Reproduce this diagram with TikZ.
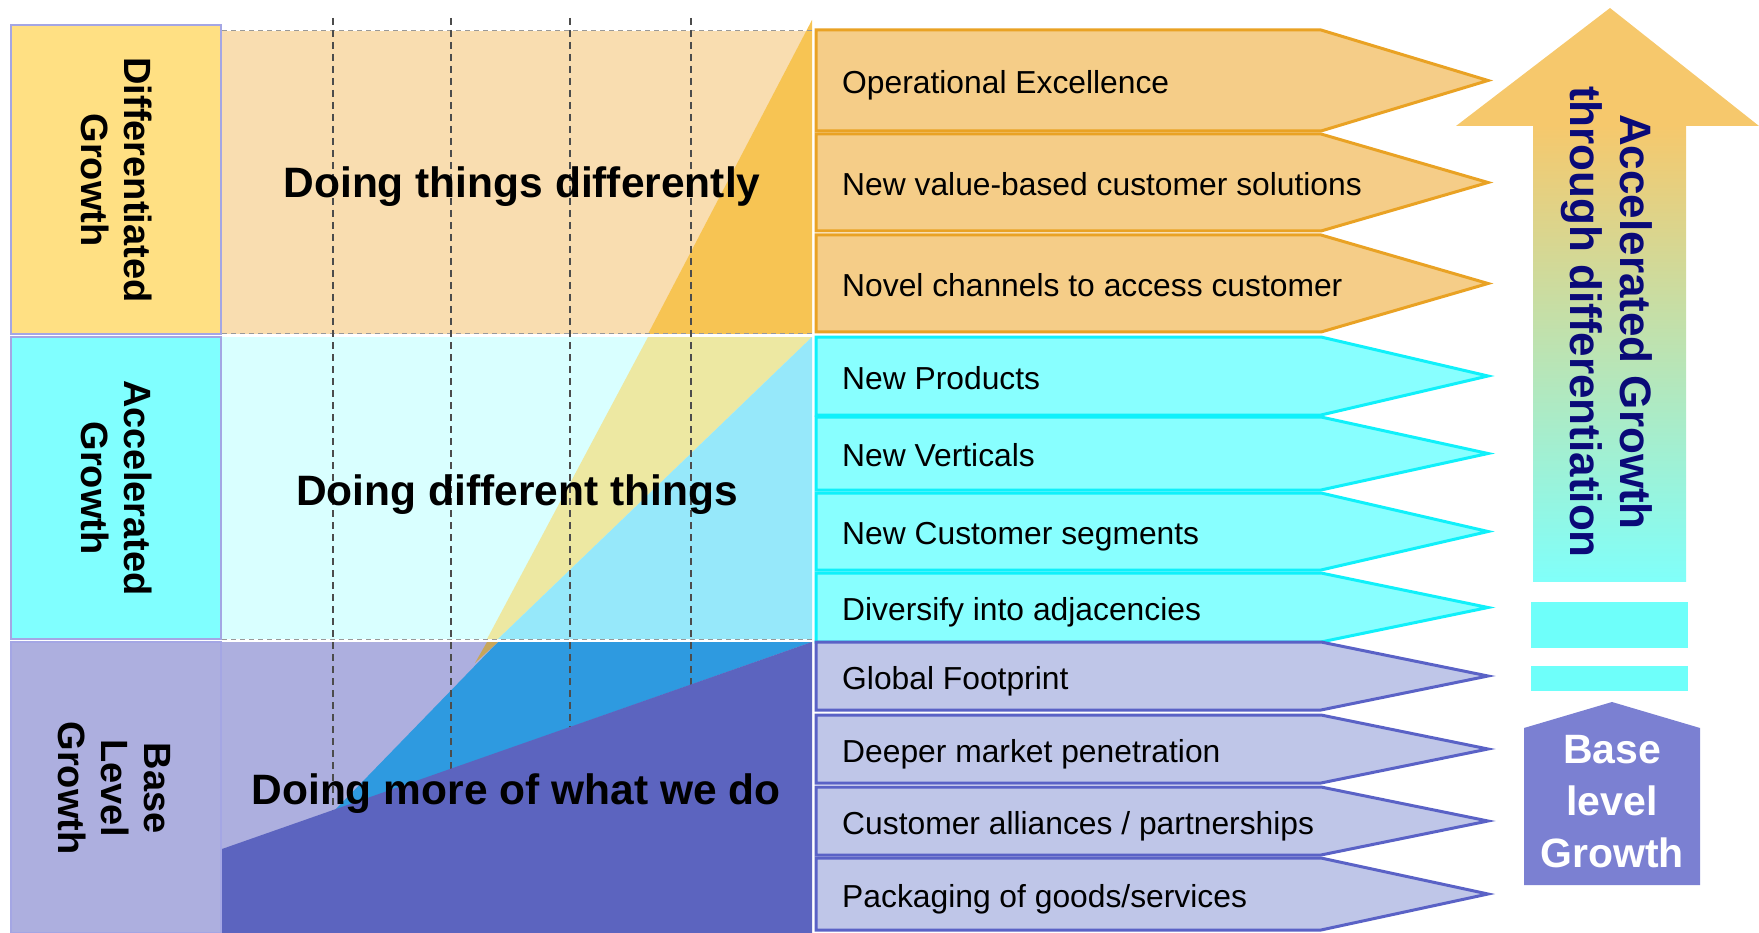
\documentclass[tikz,border=0pt]{standalone}
\usepackage{fontspec}
\setmainfont{Liberation Sans}
\usepackage{tikz}
\usetikzlibrary{positioning}

\definecolor{difffill}{HTML}{FFE083}
\definecolor{accfill}{HTML}{80FFFF}
\definecolor{basefill}{HTML}{ADAFDF}
\definecolor{diffband}{HTML}{F9DDB0}
\definecolor{accband}{HTML}{D9FFFF}
\definecolor{labelrule}{HTML}{A4A6E4}
\definecolor{diffwedge}{HTML}{F7C453}
\definecolor{accwedge}{HTML}{EDE8A2}
\definecolor{newwedge}{HTML}{96E8FA}
\definecolor{sliver}{HTML}{C8A65A}
\definecolor{bluewedge}{HTML}{2E9AE0}
\definecolor{basewedge}{HTML}{5C64BF}
\definecolor{orfill}{HTML}{F5CD88}
\definecolor{ordraw}{HTML}{E9A224}
\definecolor{cyfill}{HTML}{88FFFF}
\definecolor{cydraw}{HTML}{10F0FA}
\definecolor{pufill}{HTML}{BFC6E8}
\definecolor{pudraw}{HTML}{5A62C6}
\definecolor{uptop}{HTML}{F6C86C}
\definecolor{upmid}{HTML}{C4E4C4}
\definecolor{upbot}{HTML}{80FFFA}
\definecolor{navytext}{HTML}{0A0A78}
\definecolor{barfill}{HTML}{6EFFFA}
\definecolor{housefill}{HTML}{7B80D2}

\tikzset{
  labelbox/.style={draw=labelrule, line width=2pt},
  rotlabel/.style={rotate=-90, align=center, inner sep=0pt, font=\bfseries\fontsize{38}{43}\selectfont},
  bandtext/.style={inner sep=0pt, font=\bfseries\fontsize{42.5}{48}\selectfont},
  gridline/.style={black!70, dash pattern=on 7pt off 5pt, line width=1.2pt},
  bandrule/.style={black!40, dash pattern=on 5pt off 4pt, line width=1pt},
  orstep/.style={fill=orfill, draw=ordraw, line width=3pt},
  cystep/.style={fill=cyfill, draw=cydraw, line width=3pt},
  pustep/.style={fill=pufill, draw=pudraw, line width=3pt},
  itemtext/.style={anchor=base west, inner sep=0pt, font=\fontsize{31.8}{36}\selectfont},
}

% one pointed bar with its label
\newcommand{\itemarrow}[5]{%
  \draw[#1] (816,#2) -- (1321,#2) -- (1488,{(#2+#3)/2}) -- (1321,#3) -- (816,#3) -- cycle;
  \node[itemtext] (#4) at (842,{(#2+#3)/2+13}) {#5};
}

\begin{document}
\begin{tikzpicture}[x=1pt, y=-1pt]
		\useasboundingbox (0,0) rectangle (1759,933);

		% left labels
		\draw[labelbox, fill=difffill] (11,25) rectangle (221,334);
		\draw[labelbox, fill=accfill] (11,337) rectangle (221,639);
		\draw[labelbox, fill=basefill] (11,642) rectangle (221,933);
		\node[rotlabel] (difflabel) at (117,180) {Differentiated\\Growth};
		\node[rotlabel] (acclabel) at (117,488) {Accelerated\\Growth};
		\node[rotlabel] (baselabel) at (114,788) {Base\\Level\\Growth};

		% bands
		\fill[diffband] (222,31) rectangle (812,334);
		\fill[accband] (222,337) rectangle (812,639);
		\fill[basefill] (222,642) rectangle (812,933);

		% wedges
		\fill[diffwedge] (812,20) -- (812,334) -- (648,334) -- cycle;
		\fill[accwedge] (648,337) -- (812,337) -- (498,639) -- (487,639) -- cycle;
		\fill[newwedge] (812,337) -- (812,639) -- (498,639) -- cycle;
		\fill[bluewedge] (498,642) -- (812,642) -- (335,810) -- cycle;
		\fill[sliver] (487,642) -- (498,642) -- (475,663) -- cycle;

		\draw[bandrule] (222,31) -- (812,31);
		\draw[bandrule] (222,334) -- (812,334);
		\draw[bandrule] (222,639) -- (812,639);
		\foreach \gx in {333,451,570,691}
			\draw[gridline] (\gx,18) -- (\gx,933);

		\fill[basewedge] (222,849) -- (812,642) -- (812,933) -- (222,933) -- cycle;

		\node[bandtext] (diffband) at (522,187) {Doing things differently};
		\node[bandtext] (accband) at (517,495) {Doing different things};
		\node[bandtext] (baseband) at (516,794) {Doing more of what we do};

		% pointed bars
		\itemarrow{orstep}{30}{131}{opex}{Operational Excellence}
		\itemarrow{orstep}{134}{231}{valuesol}{New value-based customer solutions}
		\itemarrow{orstep}{235}{332}{channels}{Novel channels to access customer}
		\itemarrow{cystep}{337}{415}{newprod}{New Products}
		\itemarrow{cystep}{417}{490}{newvert}{New Verticals}
		\itemarrow{cystep}{493}{570}{newseg}{New Customer segments}
		\itemarrow{cystep}{573}{642}{adjac}{Diversify into adjacencies}
		\itemarrow{pustep}{642}{710}{footprint}{Global Footprint}
		\itemarrow{pustep}{715}{783}{penetr}{Deeper market penetration}
		\itemarrow{pustep}{787}{855}{alliances}{Customer alliances / partnerships}
		\itemarrow{pustep}{858}{930}{packaging}{Packaging of goods/services}

		% growth arrow
		\fill[uptop] (1610,8) -- (1759,126) -- (1456,126) -- cycle;
		\shade[top color=uptop, middle color=upmid, bottom color=upbot]
			(1533,125) rectangle (1686,581);
		\node[rotate=-90, align=center, inner sep=0pt, text=navytext, font=\bfseries\fontsize{44}{50}\selectfont] (upname) at (1607,322) {Accelerated Growth\\through differentiation};
		\fill[barfill] (1531,602) rectangle (1688,648);
		\fill[barfill] (1531,666) rectangle (1688,691);
		\fill[housefill] (1524,728) -- (1612,702) -- (1700,728) -- (1700,885) -- (1524,885) -- cycle;
		\node[align=center, inner sep=0pt, text=white, font=\bfseries\fontsize{41}{52}\selectfont] (housename) at (1612,802) {Base\\level\\Growth};

	\end{tikzpicture}
\end{document}
